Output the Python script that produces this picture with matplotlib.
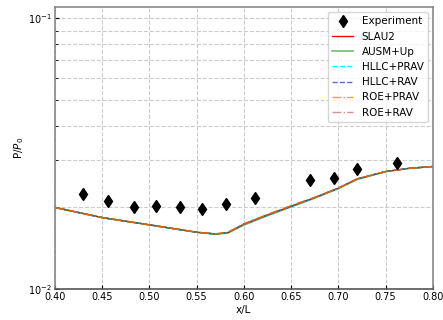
import matplotlib
matplotlib.use("Agg")
import matplotlib.pyplot as plt
from matplotlib.ticker import LogLocator, NullFormatter

# Experimental wall pressure
x_exp = [0.430, 0.456, 0.484, 0.507, 0.532, 0.556, 0.581, 0.612, 0.670, 0.695, 0.720, 0.762]
p_exp = [0.0225, 0.0211, 0.0200, 0.0203, 0.0200, 0.0197, 0.0206, 0.0217, 0.0252, 0.0257, 0.0278, 0.0292]

# Numerical solutions
x_num = [0.40, 0.45, 0.50, 0.55, 0.57, 0.583, 0.60, 0.625, 0.65, 0.675, 0.70, 0.72, 0.75, 0.775, 0.80]
p_slau2 = [0.0200, 0.01835, 0.01725, 0.0162, 0.01596, 0.01615, 0.01734, 0.01877, 0.0202, 0.02175, 0.02356, 0.0255, 0.02715, 0.0279, 0.02833]
p_ausm = [0.0200, 0.01835, 0.01725, 0.0162, 0.01594, 0.01608, 0.01722, 0.01865, 0.0201, 0.02165, 0.02348, 0.0254, 0.02712, 0.0279, 0.02833]
p_hllc_prav = [0.0200, 0.01835, 0.01725, 0.0162, 0.01596, 0.01615, 0.01734, 0.01877, 0.0202, 0.02175, 0.02356, 0.0255, 0.02715, 0.0279, 0.02833]
p_hllc_rav = [0.0200, 0.01835, 0.01725, 0.0162, 0.01596, 0.01615, 0.01734, 0.01877, 0.0202, 0.02175, 0.02356, 0.0255, 0.02715, 0.0279, 0.02833]
p_roe_prav = [0.0200, 0.01835, 0.01725, 0.0162, 0.01597, 0.01618, 0.01740, 0.01883, 0.0203, 0.02180, 0.02360, 0.0255, 0.02715, 0.0279, 0.02833]
p_roe_rav = [0.0200, 0.01835, 0.01725, 0.0162, 0.01597, 0.01618, 0.01740, 0.01883, 0.0203, 0.02180, 0.02360, 0.0255, 0.02715, 0.0279, 0.02833]

plt.rcParams["font.family"] = "DejaVu Sans"
fig = plt.figure(figsize=(4.43, 3.2), dpi=100)
ax = fig.add_axes([0.124, 0.097, 0.853, 0.881])

ax.plot(x_exp, p_exp, linestyle="none", marker="d", color="black", markersize=6, label="Experiment", zorder=5)
ax.plot(x_num, p_slau2, color="red", lw=1.0, label="SLAU2")
ax.plot(x_num, p_ausm, color="green", lw=1.2, alpha=0.55, label="AUSM+Up")
ax.plot(x_num, p_hllc_prav, color="cyan", lw=1.0, ls="--", label="HLLC+PRAV")
ax.plot(x_num, p_hllc_rav, color="navy", lw=1.0, ls="--", alpha=0.6, label="HLLC+RAV")
ax.plot(x_num, p_roe_prav, color="orange", lw=1.0, ls="-.", label="ROE+PRAV")
ax.plot(x_num, p_roe_rav, color="firebrick", lw=1.0, ls="-.", alpha=0.5, label="ROE+RAV")

ax.set_yscale("log")
ax.set_xlim(0.40, 0.80)
ax.set_ylim(0.01, 0.11)
ax.set_xticks([0.40, 0.45, 0.50, 0.55, 0.60, 0.65, 0.70, 0.75, 0.80])
ax.set_xticklabels(["0.40", "0.45", "0.50", "0.55", "0.60", "0.65", "0.70", "0.75", "0.80"])
ax.yaxis.set_minor_locator(LogLocator(base=10, subs=range(2, 10)))
ax.yaxis.set_minor_formatter(NullFormatter())

ax.grid(True, which="major", ls="--", color="#cccccc", lw=0.8)
ax.grid(True, which="minor", axis="y", ls="--", color="#cccccc", lw=0.8)
ax.tick_params(which="both", direction="in", labelsize=7, length=3, pad=2)
ax.tick_params(which="minor", length=2)

for s in ax.spines.values():
    s.set_color("#888888")
    s.set_linewidth(1.2)
ax.spines["bottom"].set_color("#555555")

ax.set_xlabel("x/L", fontsize=7.5, labelpad=2)
ax.set_ylabel("P/$P_0$", fontsize=7.5, labelpad=2)

ax.legend(loc="upper right", fontsize=7.5, framealpha=0.8, handlelength=2.0)

fig.savefig("out.png", dpi=100)
